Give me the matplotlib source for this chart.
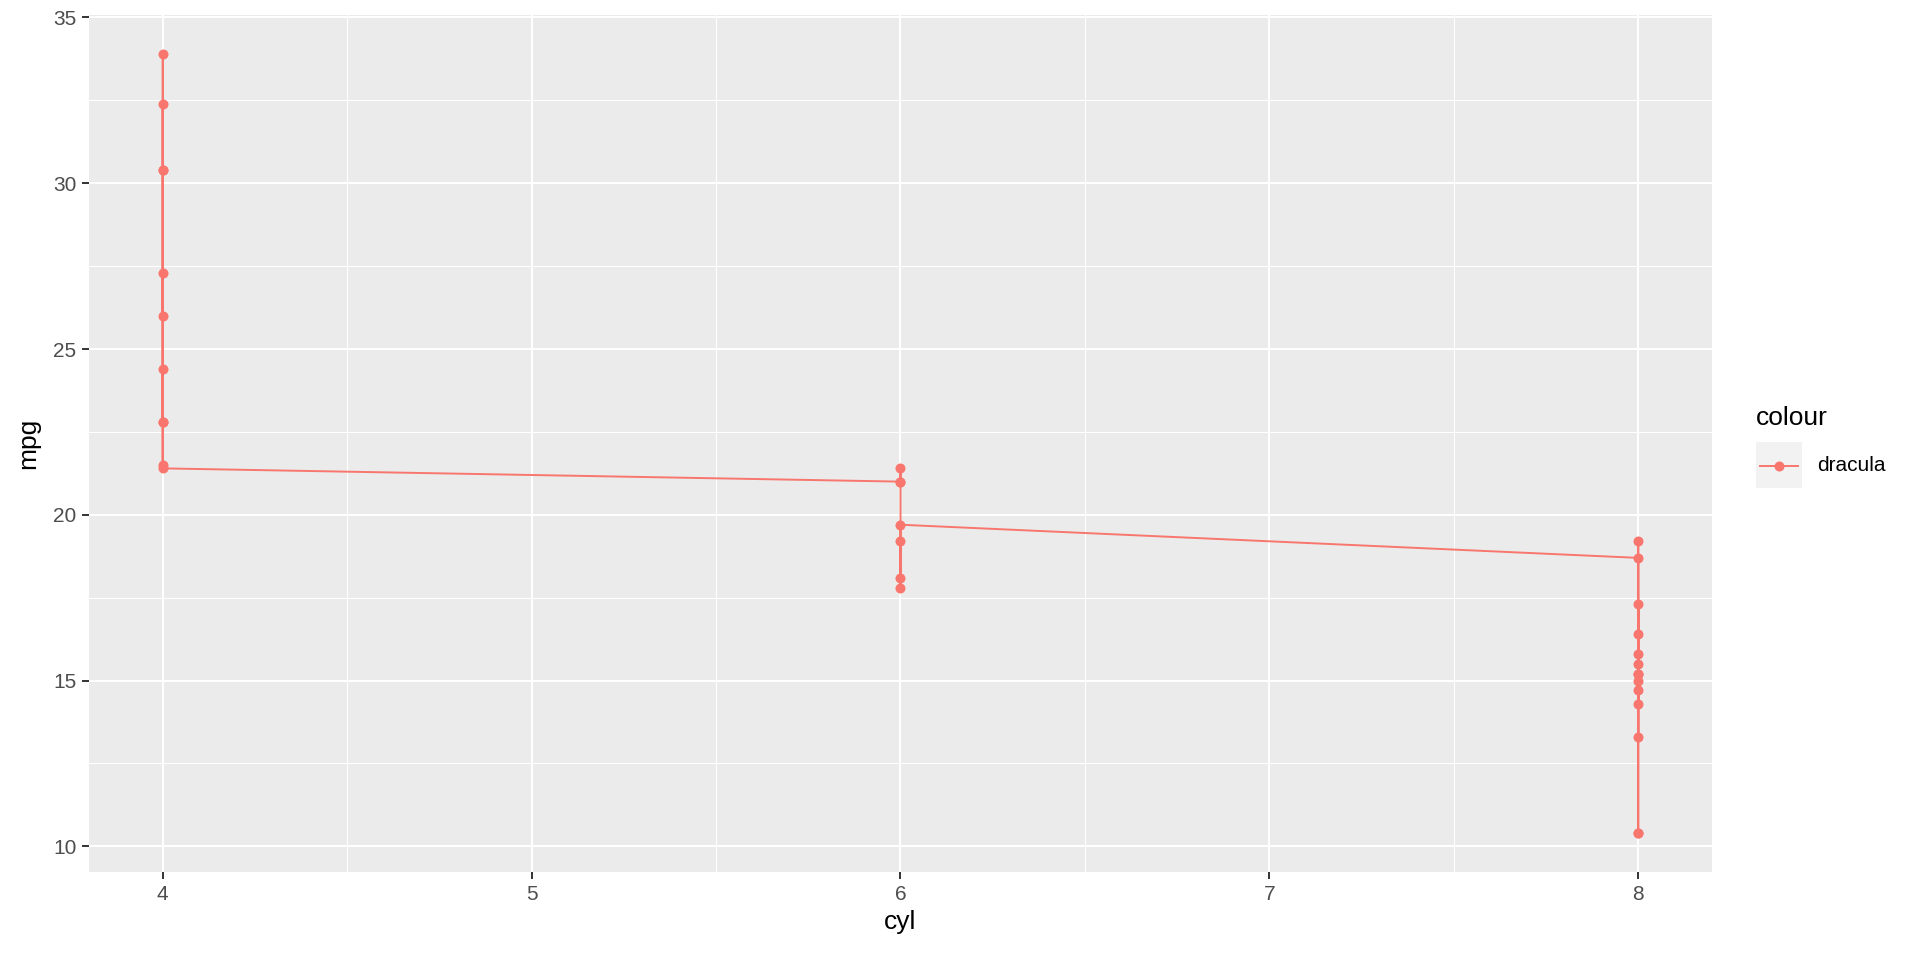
import matplotlib
matplotlib.use("Agg")
import matplotlib.pyplot as plt
import numpy as np
from matplotlib.lines import Line2D
from matplotlib.patches import Rectangle

plt.rcParams['font.family'] = ['Liberation Sans', 'DejaVu Sans']

# mtcars: cyl and mpg in original row order
cyl = [6, 6, 4, 6, 8, 6, 8, 4, 4, 6, 6, 8, 8, 8, 8, 8, 8, 4, 4, 4, 4, 8, 8, 8, 8, 4, 4, 4, 8, 6, 8, 4]
mpg = [21.0, 21.0, 22.8, 21.4, 18.7, 18.1, 14.3, 24.4, 22.8, 19.2, 17.8, 16.4, 17.3, 15.2, 10.4, 10.4,
       14.7, 32.4, 30.4, 33.9, 21.5, 15.5, 15.2, 13.3, 19.2, 27.3, 26.0, 30.4, 15.8, 19.7, 15.0, 21.4]
x_ticks = [4, 5, 6, 7, 8]
y_ticks = [10, 15, 20, 25, 30, 35]
series_name = "dracula"
col = "#F8766D"

# geom_line sorts by x (stable)
order = np.argsort(cyl, kind="stable")
xs = np.array(cyl)[order]
ys = np.array(mpg)[order]

W, H = 1920, 960
fig = plt.figure(figsize=(19.2, 9.6), dpi=100)
ax = fig.add_axes([89 / W, (H - 872) / H, (1712 - 89) / W, (872 - 15) / H])
ax.set_facecolor("#EBEBEB")

ax.plot(xs, ys, color=col, lw=1.4, zorder=3)
ax.plot(xs, ys, "o", color=col, ms=7.2, mew=0, zorder=4)

xr = max(cyl) - min(cyl)
yr = max(mpg) - min(mpg)
ax.set_xlim(min(cyl) - 0.05 * xr, max(cyl) + 0.05 * xr)
ax.set_ylim(min(mpg) - 0.05 * yr, max(mpg) + 0.05 * yr)
ax.set_xticks(x_ticks)
ax.set_yticks(y_ticks)
ax.set_xticks([4.5, 5.5, 6.5, 7.5], minor=True)
ax.set_yticks([12.5, 17.5, 22.5, 27.5, 32.5], minor=True)
ax.grid(which="major", color="white", lw=1.5, zorder=0)
ax.grid(which="minor", color="white", lw=0.75, zorder=0)
ax.set_axisbelow(True)
for s in ax.spines.values():
    s.set_visible(False)
ax.tick_params(which="major", length=5, width=1.4, color="#333333", labelcolor="#4D4D4D", labelsize=15, pad=4)
ax.tick_params(which="minor", length=0)

ax.set_xlabel("cyl", fontsize=19, labelpad=5)
ax.set_ylabel("mpg", fontsize=19, labelpad=9)

# legend drawn like ggplot's guide: grey key box, title above
fig.text(1756 / W, 1 - 425 / H, "colour", fontsize=19, ha="left", va="baseline")
fig.patches.append(Rectangle((1756 / W, 1 - 488 / H), 46 / W, 46 / H,
                             transform=fig.transFigure, facecolor="#F2F2F2", edgecolor="none"))
ky = 1 - 466 / H
fig.lines.append(Line2D([1760 / W, 1798 / W], [ky, ky], transform=fig.transFigure, color=col, lw=1.4))
fig.lines.append(Line2D([1779 / W], [ky], transform=fig.transFigure, color=col, marker="o", ms=7.2, mew=0))
fig.text(1817 / W, ky, series_name, fontsize=15, ha="left", va="center")

fig.savefig("out.png", dpi=100)
